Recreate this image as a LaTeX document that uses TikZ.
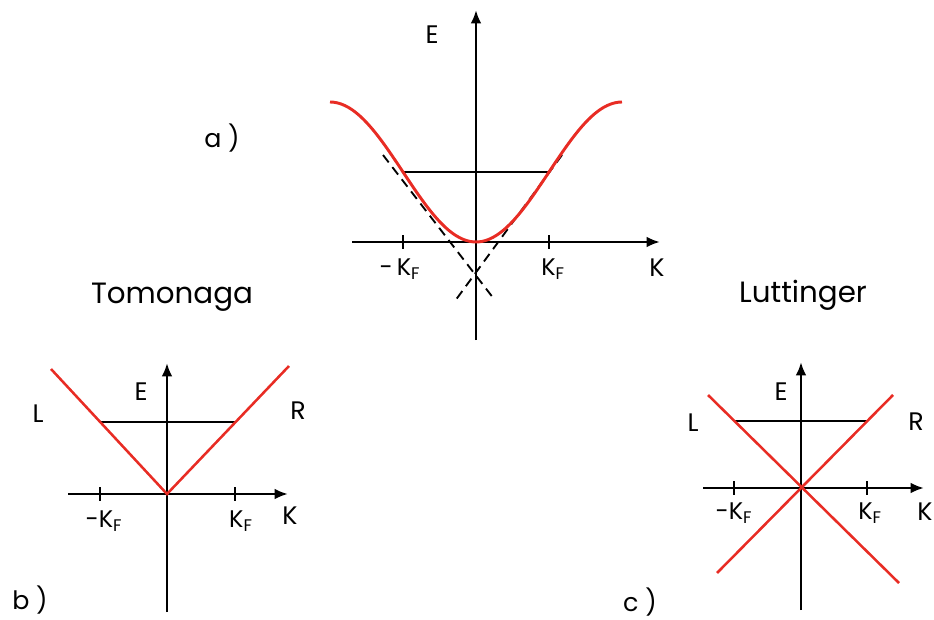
\documentclass[tikz,border=0pt]{standalone}
\usepackage{fontspec}
\setmainfont{Poppins}
\usetikzlibrary{arrows.meta, positioning}
\definecolor{bandred}{RGB}{232,44,36}

\begin{document}
\begin{tikzpicture}[
		x=0.75pt, y=-0.75pt,
		% Axes, ticks and lines
		axis/.style={line width=1.9pt, -{Latex[length=10pt, width=8pt]}},
		tick/.style={line width=0.9pt},
		band/.style={draw=bandred, line width=2.2pt},
		fermi/.style={line width=1.1pt},
		asym/.style={line width=1.4pt, dash pattern=on 7pt off 4.5pt},
		% Labels
		lbl/.style={font=\fontsize{19}{19}\selectfont, inner sep=1pt},
		kflbl/.style={font=\fontsize{18}{18}\selectfont, inner sep=1pt},
		panelTitle/.style={font=\fontsize{22}{22}\selectfont, inner sep=1pt}
		]
		
		\useasboundingbox (0,0) rectangle (934,620);
		
		% ==============================================================================
		% PANEL A: TIGHT BINDING BAND
		% ==============================================================================
		\begin{scope}[shift={(476,242)}]
			\coordinate (a-kl) at (-124,0);
			\coordinate (a-kr) at (184,0);
			\coordinate (a-eb) at (0,98);
			\coordinate (a-et) at (0,-232);
			\coordinate (a-kfl) at (-73,0);
			\coordinate (a-kfr) at (73,0);
			\coordinate (a-fl) at (-73,-70);
			\coordinate (a-fr) at (73,-70);
			
			\draw[axis] (a-kl) -- (a-kr);
			\draw[axis] (a-eb) -- (a-et);
			\draw[tick] (a-kfl) ++(0,-7) -- ++(0,14);
			\draw[tick] (a-kfr) ++(0,-7) -- ++(0,14);
			
			% --- band and its linear asymptotes ---
			\coordinate (a-d1s) at (-93,-87);
			\coordinate (a-d1e) at (18,57);
			\coordinate (a-d2s) at (86,-87);
			\coordinate (a-d2e) at (-21,59);
			\draw[asym] (a-d1s) -- (a-d1e);
			\draw[asym] (a-d2s) -- (a-d2e);
			\draw[fermi] (a-fl) -- (a-fr);
			\draw[band] plot[domain=-146:146, samples=80, smooth] (\x, {-70*(1-cos(1.2329*\x))});
			
			\node[lbl] (a-E) at (-44,-207) {E};
			\node[lbl] (a-K) at (181,26) {K};
			\node[kflbl] (a-mkf) at (-76,27) {-\,K\textsubscript{F}};
			\node[kflbl] (a-pkf) at (77,27) {K\textsubscript{F}};
			\node[lbl] (a-tag) at (-254,-104) {a )};
		\end{scope}
		
		% ==============================================================================
		% PANEL B: TOMONAGA
		% ==============================================================================
		\begin{scope}[shift={(167,494)}]
			\coordinate (b-kl) at (-99,0);
			\coordinate (b-kr) at (121,0);
			\coordinate (b-eb) at (0,118);
			\coordinate (b-et) at (0,-131);
			\coordinate (b-o) at (0,0);
			\coordinate (b-kfl) at (-67,0);
			\coordinate (b-kfr) at (68,0);
			\coordinate (b-Lend) at (-116,-125);
			\coordinate (b-Rend) at (122,-128);
			\coordinate (b-fl) at (-67,-72);
			\coordinate (b-fr) at (68,-72);
			
			\draw[axis] (b-kl) -- (b-kr);
			\draw[axis] (b-eb) -- (b-et);
			\draw[tick] (b-kfl) ++(0,-7) -- ++(0,14);
			\draw[tick] (b-kfr) ++(0,-7) -- ++(0,14);
			\draw[fermi] (b-fl) -- (b-fr);
			\draw[band, line width=1.9pt] (b-Lend) -- (b-o) -- (b-Rend);
			
			\node[panelTitle] (b-title) at (5,-197) {Tomonaga};
			\node[lbl] (b-E) at (-26,-102) {E};
			\node[lbl] (b-L) at (-129,-80) {L};
			\node[lbl] (b-R) at (131,-83) {R};
			\node[lbl] (b-K) at (123,22) {K};
			\node[kflbl] (b-mkf) at (-63,27) {-K\textsubscript{F}};
			\node[kflbl] (b-pkf) at (74,27) {K\textsubscript{F}};
			\node[lbl] (b-tag) at (-137,106) {b )};
		\end{scope}
		
		% ==============================================================================
		% PANEL C: LUTTINGER
		% ==============================================================================
		\begin{scope}[shift={(801,488)}]
			\coordinate (c-kl) at (-98,0);
			\coordinate (c-kr) at (123,0);
			\coordinate (c-eb) at (0,122);
			\coordinate (c-et) at (0,-126);
			\coordinate (c-kfl) at (-67,0);
			\coordinate (c-kfr) at (66,0);
			\coordinate (c-l1s) at (-93,-93);
			\coordinate (c-l1e) at (98,95);
			\coordinate (c-l2s) at (-84,85);
			\coordinate (c-l2e) at (92,-93);
			\coordinate (c-fl) at (-67,-67);
			\coordinate (c-fr) at (67,-67);
			
			\draw[axis] (c-kl) -- (c-kr);
			\draw[axis] (c-eb) -- (c-et);
			\draw[tick] (c-kfl) ++(0,-7) -- ++(0,14);
			\draw[tick] (c-kfr) ++(0,-7) -- ++(0,14);
			\draw[fermi] (c-fl) -- (c-fr);
			\draw[band, line width=1.9pt] (c-l1s) -- (c-l1e);
			\draw[band, line width=1.9pt] (c-l2s) -- (c-l2e);
			
			\node[panelTitle] (c-title) at (2,-193) {Luttinger};
			\node[lbl] (c-E) at (-20,-96) {E};
			\node[lbl] (c-L) at (-108,-65) {L};
			\node[lbl] (c-R) at (115,-66) {R};
			\node[lbl] (c-K) at (124,24) {K};
			\node[kflbl] (c-mkf) at (-67,25) {-K\textsubscript{F}};
			\node[kflbl] (c-pkf) at (69,25) {K\textsubscript{F}};
			\node[lbl] (c-tag) at (-161,114) {c )};
		\end{scope}
		
	\end{tikzpicture}
\end{document}
